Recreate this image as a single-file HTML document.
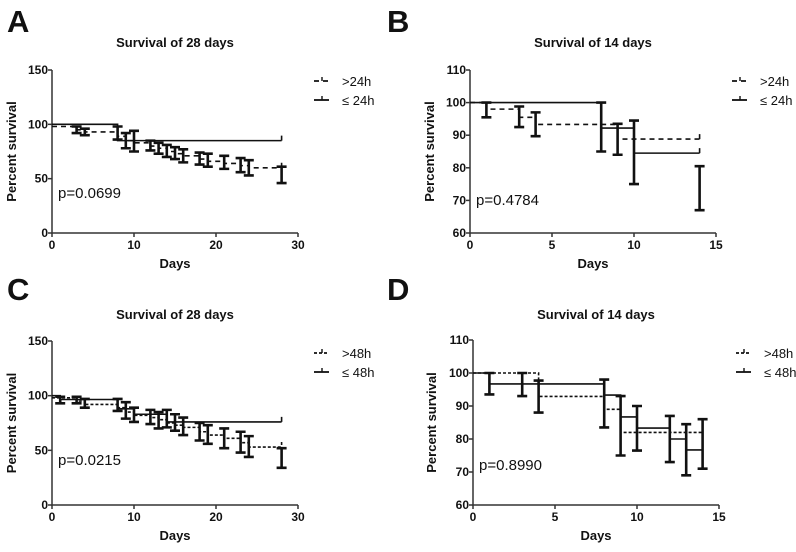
<!DOCTYPE html>
<html><head><meta charset="utf-8"><style>
html,body{margin:0;padding:0;background:#fff;}
svg{display:block;font-family:"Liberation Sans",Arial,sans-serif;}
</style></head><body>
<svg id="fig" width="796" height="552" viewBox="0 0 796 552" xmlns="http://www.w3.org/2000/svg"></svg>
<script>
// Panel A data
const aSolidT = [0, 8, 28];
const aSolidV = [100, 85, 85];
const aDashT = [0, 3, 4, 8, 9, 10, 12, 13, 14, 15, 16, 18, 19, 21, 23, 24, 28];
const aDashV = [98, 95, 93, 89, 85, 83, 80, 78, 75, 73, 71, 68, 66, 64, 62, 60, 60];
const aErrT = [3, 4, 8, 9, 10, 12, 13, 14, 15, 16, 18, 19, 21, 23, 24, 28];
const aErrLo = [92, 90, 86, 78, 75, 76, 73, 70, 68, 65, 63, 61, 59, 56, 53, 46];
const aErrHi = [98, 96, 98, 92, 94, 85, 83, 81, 79, 77, 74, 73, 71, 69, 67, 61];
// Panel B data
const bSolidT = [0, 8, 10, 14];
const bSolidV = [100, 92.2, 84.5, 84.5];
const bDashT = [0, 1, 3, 4, 9, 14];
const bDashV = [100, 98, 95.5, 93.3, 88.8, 88.8];
const bErrT = [1, 3, 4, 8, 9, 10, 14];
const bErrLo = [95.5, 92.5, 89.7, 85, 84, 75, 67];
const bErrHi = [100, 98.8, 97, 100, 93.5, 94.5, 80.5];
// Panel C data
const cSolidT = [0, 1, 8, 10, 14, 28];
const cSolidV = [100, 96.5, 88, 83, 76, 76];
const cDashT = [0, 3, 4, 8, 9, 10, 12, 13, 14, 15, 16, 18, 19, 21, 23, 24, 28];
const cDashV = [98, 95, 92, 89, 85, 82, 80, 78, 75, 73, 71, 67, 64, 61, 57, 53, 53];
const cErrT = [1, 3, 4, 8, 9, 10, 12, 13, 14, 15, 16, 18, 19, 21, 23, 24, 28];
const cErrLo = [93, 93, 89, 86, 79, 76, 74, 70, 71, 68, 64, 59, 56, 52, 48, 44, 34];
const cErrHi = [99, 99, 97, 97, 94, 89, 87, 85, 87, 83, 80, 75, 73, 70, 67, 63, 52];
// Panel D data
const dSolidT = [0, 1, 8, 9, 10, 12, 13, 14];
const dSolidV = [100, 96.7, 93.3, 86.7, 83.3, 80, 76.7, 76.7];
const dDashT = [0, 4, 8, 9, 14];
const dDashV = [100, 92.9, 89, 82, 82];
const dErrT = [1, 3, 4, 8, 9, 10, 12, 13, 14];
const dErrLo = [93.5, 93, 88, 83.5, 75, 76.5, 73, 69, 71];
const dErrHi = [100, 100, 97.7, 98, 93, 90, 87, 84.5, 86];
// tick labels
const ticksX28 = [0, 10, 20, 30];
const ticksY28 = [0, 50, 100, 150];
const ticksX14 = [0, 5, 10, 15];
const ticksY14 = [60, 70, 80, 90, 100, 110];

const NS = "http://www.w3.org/2000/svg";
const svg = document.getElementById('fig');
function mk(tag, attrs, parent, text) {
  const e = document.createElementNS(NS, tag);
  for (const k in attrs) e.setAttribute(k, attrs[k]);
  if (text !== undefined) e.textContent = text;
  (parent || svg).appendChild(e);
  return e;
}

function panel(o) {
  const g = mk('g', {});
  
  
  const sx = v => o.x0 + (v - o.xmin) / (o.xmax - o.xmin) * (o.x1 - o.x0);
  const sy = v => o.y0 - (v - o.ymin) / (o.ymax - o.ymin) * (o.y0 - o.y1);
  const L = mk('text', {x: o.lx, y: o.ly, 'font-size': 31, 'font-weight': 'bold', fill: '#111'}, g, o.letter);
  
  
  const T = mk('text', {x: (o.x0 + o.x1) / 2, y: o.ty, 'font-size': 13, 'font-weight': 'bold', 'text-anchor': 'middle', fill: '#111'}, g, o.title);
  
  
  const ax = mk('path', {d: `M${o.x0},${o.y1}V${o.y0}H${o.x1}`, stroke: '#333', 'stroke-width': 1.5, fill: 'none'}, g);
  
  
  o.tx.forEach(v => {
    mk('line', {x1: sx(v), x2: sx(v), y1: o.y0, y2: o.y0 + 4, stroke: '#333', 'stroke-width': 1.5}, g);
    const t = mk('text', {x: sx(v), y: o.y0 + 16, 'font-size': 12, 'font-weight': 'bold', 'text-anchor': 'middle', fill: '#111'}, g, v);
    
    
  });
  o.ty2.forEach(v => {
    mk('line', {x1: o.x0 - 4, x2: o.x0, y1: sy(v), y2: sy(v), stroke: '#333', 'stroke-width': 1.5}, g);
    const t = mk('text', {x: o.x0 - 4, y: sy(v) + 4, 'font-size': 12, 'font-weight': 'bold', 'text-anchor': 'end', fill: '#111'}, g, v);
    
    
  });
  const xl = mk('text', {x: (o.x0 + o.x1) / 2, y: o.y0 + 35, 'font-size': 13, 'font-weight': 'bold', 'text-anchor': 'middle', fill: '#111'}, g, 'Days');
  
  
  const yc = (o.y0 + o.y1) / 2;
  const yl = mk('text', {x: o.ylx, y: yc, 'font-size': 13, 'font-weight': 'bold', 'text-anchor': 'middle', fill: '#111', transform: `rotate(-90 ${o.ylx} ${yc})`}, g, 'Percent survival');
  
  
  const p = mk('text', {x: o.x0 + 6, y: o.py, 'font-size': 15, fill: '#111'}, g, o.p);
  
  
  function step(T, V, dash, name) {
    let d = `M${sx(T[0])},${sy(V[0])}`;
    for (let i = 1; i < T.length; i++) {
      d += `H${sx(T[i])}`;
      if (i < T.length - 1 || V[i] !== V[i - 1]) d += `V${sy(V[i])}`;
    }
    const last = T.length - 1;
    d += `M${sx(T[last])},${sy(V[last]) - 5}V${sy(V[last])}`;
    const s = mk('path', {d: d, stroke: '#111', 'stroke-width': 1.6, fill: 'none', 'stroke-dasharray': dash || 'none'}, g);
    
    
  }
  step(o.sT, o.sV, null, 'series-le');
  step(o.dT, o.dV, o.dash, 'series-gt');
  o.eT.forEach((t, i) => {
    const x = sx(t), a = sy(o.eLo[i]), b = sy(o.eHi[i]);
    const e = mk('path', {d: `M${x},${a}V${b}M${x - 5},${a}H${x + 5}M${x - 5},${b}H${x + 5}`, stroke: '#111', 'stroke-width': 2.6, fill: 'none'}, g);
    
    
  });
  const lg = mk('g', {}, g);
  
  
  [[o.lgY, o.dash, o.lab1], [o.lgY + 19, null, o.lab2]].forEach(([y, dash, lab]) => {
    mk('line', {x1: o.lgX, x2: o.lgX + 15, y1: y, y2: y, stroke: '#111', 'stroke-width': 1.8, 'stroke-dasharray': dash || 'none'}, lg);
    mk('line', {x1: o.lgX + 8, x2: o.lgX + 8, y1: y - 4, y2: y, stroke: '#111', 'stroke-width': 1.4}, lg);
    const t = mk('text', {x: o.lgX + 28, y: y + 5, 'font-size': 13, fill: '#111'}, lg, lab);
    
    
  });
}

panel({id: 'a', letter: 'A', lx: 7, ly: 32, title: 'Survival of 28 days', ty: 47, x0: 52, x1: 298, y0: 233, y1: 70, xmin: 0, xmax: 30, ymin: 0, ymax: 150,
  tx: ticksX28, ty2: ticksY28, ylx: 16, py: 198, p: 'p=0.0699', sT: aSolidT, sV: aSolidV, dT: aDashT, dV: aDashV, dash: '5,4',
  eT: aErrT, eLo: aErrLo, eHi: aErrHi, lgX: 314, lgY: 81, lab1: '>24h', lab2: '\u2264 24h'});
panel({id: 'b', letter: 'B', lx: 387, ly: 32, title: 'Survival of 14 days', ty: 47, x0: 470, x1: 716, y0: 233, y1: 70, xmin: 0, xmax: 15, ymin: 60, ymax: 110,
  tx: ticksX14, ty2: ticksY14, ylx: 434, py: 205, p: 'p=0.4784', sT: bSolidT, sV: bSolidV, dT: bDashT, dV: bDashV, dash: '5,4',
  eT: bErrT, eLo: bErrLo, eHi: bErrHi, lgX: 732, lgY: 81, lab1: '>24h', lab2: '\u2264 24h'});
panel({id: 'c', letter: 'C', lx: 7, ly: 300, title: 'Survival of 28 days', ty: 319, x0: 52, x1: 298, y0: 505, y1: 341, xmin: 0, xmax: 30, ymin: 0, ymax: 150,
  tx: ticksX28, ty2: ticksY28, ylx: 16, py: 465, p: 'p=0.0215', sT: cSolidT, sV: cSolidV, dT: cDashT, dV: cDashV, dash: '3,2',
  eT: cErrT, eLo: cErrLo, eHi: cErrHi, lgX: 314, lgY: 353, lab1: '>48h', lab2: '\u2264 48h'});
panel({id: 'd', letter: 'D', lx: 387, ly: 300, title: 'Survival of 14 days', ty: 319, x0: 473, x1: 719, y0: 505, y1: 340, xmin: 0, xmax: 15, ymin: 60, ymax: 110,
  tx: ticksX14, ty2: ticksY14, ylx: 436, py: 470, p: 'p=0.8990', sT: dSolidT, sV: dSolidV, dT: dDashT, dV: dDashV, dash: '3,2',
  eT: dErrT, eLo: dErrLo, eHi: dErrHi, lgX: 736, lgY: 353, lab1: '>48h', lab2: '\u2264 48h'});
</script>
</body></html>
